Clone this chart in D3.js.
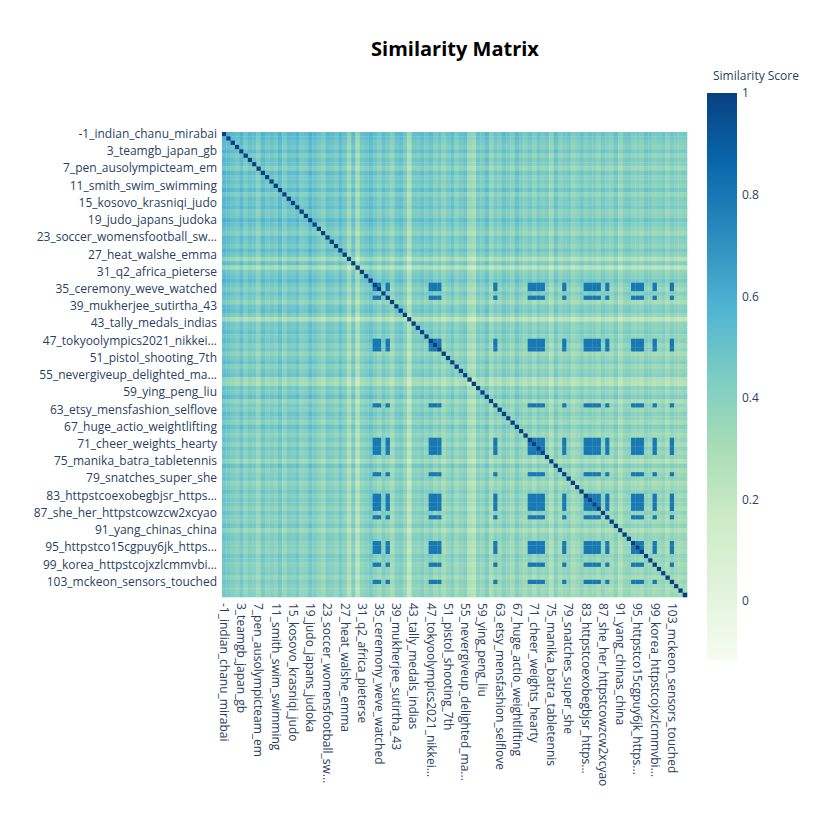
<!DOCTYPE html>
<html><head><meta charset="utf-8">
<script src="https://cdn.jsdelivr.net/npm/d3@7"></script>
<style>body{margin:0;background:#fff}text{font-family:"Open Sans",sans-serif}</style>
</head><body><svg id="c" width="828" height="828"></svg>
<script>
const topicIds = d3.range(-1, 107);
const tickLabels = ["-1_indian_chanu_mirabai","3_teamgb_japan_gb","7_pen_ausolympicteam_em","11_smith_swim_swimming","15_kosovo_krasniqi_judo","19_judo_japans_judoka","23_soccer_womensfootball_sw...","27_heat_walshe_emma","31_q2_africa_pieterse","35_ceremony_weve_watched","39_mukherjee_sutirtha_43","43_tally_medals_indias","47_tokyoolympics2021_nikkei...","51_pistol_shooting_7th","55_nevergiveup_delighted_ma...","59_ying_peng_liu","63_etsy_mensfashion_selflove","67_huge_actio_weightlifting","71_cheer_weights_hearty","75_manika_batra_tabletennis","79_snatches_super_she","83_httpstcoexobegbjsr_https...","87_she_her_httpstcowzcw2xcyao","91_yang_chinas_china","95_httpstco15cgpuy6jk_https...","99_korea_httpstcojxzlcmmvbi...","103_mckeon_sensors_touched"];
// estimated typical similarity level of each topic (row brightness)
const topicLevel = [0.30,0.28,0.25,0.22,0.29,0.20,0.26,0.24,0.17,0.28,0.22,0.25,0.21,0.29,0.19,0.26,
0.24,0.28,0.20,0.22,0.30,0.25,0.21,0.17,0.26,0.24,0.20,0.28,0.22,0.10,0.25,0.07,0.21,0.24,
0.28,0.22,0.17,0.25,0.20,0.14,0.24,0.26,0.19,0.05,0.22,0.21,0.25,0.20,0.24,0.17,0.22,0.14,
0.20,0.25,0.16,0.21,0.24,0.10,0.08,0.22,0.19,0.26,0.13,0.21,0.17,0.24,0.20,0.15,0.25,0.19,
0.16,0.21,0.14,0.22,0.17,0.20,0.11,0.24,0.15,0.19,0.21,0.13,0.17,0.22,0.16,0.20,0.19,0.14,
0.21,0.17,0.15,0.22,0.11,0.19,0.20,0.16,0.17,0.14,0.21,0.19,0.15,0.17,0.20,0.13,0.19,0.16,0.15,0.17];
// topics forming the dark block cluster
const clusterTopics = [34,35,37,47,48,49,62,70,71,72,73,78,83,84,85,86,88,94,95,96,99,103];
const zMin = -0.116, zMax = 1;

const cells = [];
topicIds.forEach((a,i)=>topicIds.forEach((b,j)=>{
  let v;
  if (i===j) v = 1;
  else if (clusterTopics.includes(a) && clusterTopics.includes(b)) v = 0.8;
  else v = topicLevel[i]+topicLevel[j];
  cells.push({a,b,v});
}));

const svg = d3.select("#c");
const L=222,T=132,S=465;
const x = d3.scaleBand().domain(topicIds).range([L,L+S]);
const y = d3.scaleBand().domain(topicIds).range([T,T+S]);
const stops = ["rgb(247,252,240)","rgb(224,243,219)","rgb(204,235,197)","rgb(168,221,181)","rgb(123,204,196)","rgb(78,179,211)","rgb(43,140,190)","rgb(8,104,172)","rgb(8,64,129)"];
const interp = d3.scaleLinear().domain(d3.range(9).map(k=>k/8)).range(stops).interpolate(d3.interpolateRgb);
const color = v => interp((v-zMin)/(zMax-zMin));

svg.append("g").selectAll("rect").data(cells).join("rect")
 .attr("x",d=>x(d.a)).attr("y",d=>y(d.b)).attr("width",x.bandwidth()+0.3).attr("height",y.bandwidth()+0.3)
 .attr("fill",d=>color(d.v));

const shown = topicIds.filter((t,i)=>i%4===0);
const labelOf = t => tickLabels[shown.indexOf(t)];
svg.append("g").attr("transform",`translate(${L-2},0)`)
 .call(d3.axisLeft(y).tickValues(shown).tickFormat(labelOf).tickSize(0))
 .call(g=>{g.select(".domain").remove();g.selectAll("text").attr("font-size",12).attr("fill","#2a3f5f");});
svg.append("g").attr("transform",`translate(0,${T+S+4})`)
 .call(d3.axisBottom(x).tickValues(shown).tickFormat(labelOf).tickSize(0))
 .call(g=>{g.select(".domain").remove();g.selectAll("text").attr("font-size",12).attr("fill","#2a3f5f")
   .attr("transform","rotate(90)").attr("text-anchor","start").attr("dx","2").attr("dy","0.35em").attr("x",0).attr("y",0);});

svg.append("text").attr("x",455).attr("y",56).attr("text-anchor","middle").attr("font-size",20).attr("font-weight","bold").attr("fill","#000").text("Similarity Matrix");

// colorbar
const cbT=93,cbB=660,cbX=707,cbW=30;
const cs = d3.scaleLinear().domain([zMin,zMax]).range([cbB,cbT]);
const defs=svg.append("defs");
const gr=defs.append("linearGradient").attr("id","gb").attr("x1",0).attr("y1",1).attr("x2",0).attr("y2",0);
stops.forEach((s,k)=>gr.append("stop").attr("offset",k/8).attr("stop-color",s));
svg.append("rect").attr("x",cbX).attr("y",cbT).attr("width",cbW).attr("height",cbB-cbT).attr("fill","url(#gb)");
svg.append("g").attr("transform",`translate(${cbX+cbW},0)`)
 .call(d3.axisRight(cs).tickValues([0,0.2,0.4,0.6,0.8,1]).tickFormat(d3.format("~g")).tickSize(0).tickPadding(5))
 .call(g=>{g.select(".domain").remove();g.selectAll("text").attr("font-size",12).attr("fill","#2a3f5f");});
svg.append("text").attr("x",756).attr("y",80).attr("text-anchor","middle").attr("font-size",12).attr("fill","#2a3f5f").text("Similarity Score");
</script></body></html>
